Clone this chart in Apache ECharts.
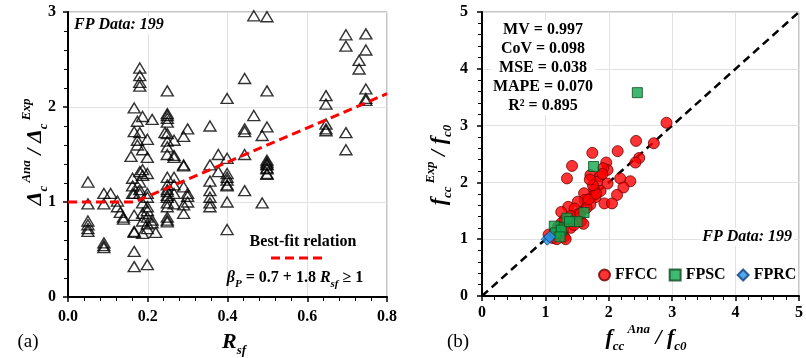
<!DOCTYPE html>
<html>
<head>
<meta charset="utf-8">
<script src="https://cdn.jsdelivr.net/npm/echarts@6/dist/echarts.min.js"></script>
<style>
  html, body { margin: 0; padding: 0; background: #fff; }
  #chart { width: 806px; height: 358px; }
</style>
</head>
<body>
<div id="chart"></div>
<script>
// (a) Rsf vs Δc Ana / Δc Exp
var rsf = [
  0.05, 0.05, 0.05, 0.05, 0.05, 0.05,
  0.09, 0.09, 0.09, 0.09, 0.09, 0.107, 0.124, 0.124, 0.131, 0.139, 0.139,
  0.166, 0.166, 0.166, 0.166, 0.166, 0.166, 0.166, 0.166,
  0.18, 0.18, 0.18, 0.18, 0.18, 0.18, 0.18, 0.18, 0.18,
  0.187, 0.187, 0.187, 0.187, 0.187, 0.187, 0.187, 0.187,
  0.174, 0.174, 0.174, 0.211, 0.211, 0.211,
  0.199, 0.199, 0.199, 0.199, 0.199, 0.199, 0.199, 0.199, 0.199, 0.199, 0.199,
  0.158, 0.162, 0.162, 0.162, 0.22,
  0.249, 0.249, 0.249, 0.249, 0.249, 0.249, 0.249, 0.249, 0.249, 0.249,
  0.249, 0.249, 0.249, 0.249, 0.249, 0.249, 0.249, 0.249, 0.249, 0.249,
  0.243, 0.266, 0.266, 0.266, 0.266, 0.266, 0.266, 0.266,
  0.29, 0.29, 0.29, 0.29, 0.29, 0.29, 0.30, 0.30, 0.30, 0.30,
  0.356, 0.356, 0.356, 0.356, 0.356, 0.356, 0.356, 0.377, 0.377,
  0.399, 0.399, 0.399, 0.399, 0.399, 0.399, 0.399, 0.399, 0.399,
  0.443, 0.443, 0.443, 0.443, 0.443, 0.466, 0.466, 0.487, 0.487,
  0.499, 0.499, 0.499, 0.499, 0.499, 0.499, 0.499, 0.499, 0.499, 0.499, 0.499,
  0.647, 0.647, 0.647, 0.647, 0.647, 0.697, 0.697, 0.697, 0.697,
  0.73, 0.73, 0.747, 0.747, 0.747, 0.747, 0.747
];
var deltaRatio = [
  1.21, 0.98, 0.80, 0.76, 0.72, 0.69,
  1.09, 0.98, 0.57, 0.54, 0.52, 1.09, 1.01, 0.95, 0.89, 0.84, 0.82,
  0.86, 0.69, 0.48, 0.32, 1.99, 1.74, 1.09, 0.68,
  2.41, 2.33, 2.26, 2.22, 1.73, 1.32, 1.21, 1.13, 1.09,
  1.90, 1.55, 1.34, 1.28, 0.99, 0.88, 0.80, 0.67,
  1.85, 1.65, 1.60, 1.87, 0.81, 0.78,
  1.66, 1.47, 1.30, 1.09, 1.05, 0.95, 0.91, 0.84, 0.77, 0.72, 0.34,
  1.48, 1.25, 1.17, 1.09, 0.68,
  2.17, 1.93, 1.91, 1.88, 1.84, 1.72, 1.64, 1.58, 1.50, 1.26,
  1.18, 1.13, 1.11, 1.07, 1.05, 0.99, 0.95, 0.84, 0.81, 0.79,
  1.73, 1.65, 1.49, 1.47, 1.26, 1.18, 1.09, 0.98,
  1.69, 1.39, 1.38, 1.16, 0.97, 0.88, 1.77, 1.09, 1.06, 1.00,
  1.80, 1.39, 1.22, 1.12, 1.05, 0.99, 0.95, 1.50, 1.32,
  2.09, 1.46, 1.30, 1.26, 1.23, 1.18, 1.17, 1.00, 0.71,
  2.30, 1.77, 1.74, 1.50, 1.12, 2.96, 1.91, 1.70, 0.99,
  2.95, 2.17, 1.79, 1.44, 1.42, 1.40, 1.39, 1.36, 1.35, 1.30, 1.29,
  2.12, 2.03, 1.82, 1.77, 1.75, 2.76, 2.64, 1.73, 1.55,
  2.49, 2.40, 2.77, 2.60, 2.19, 2.09, 2.07
];
// best-fit: βP = 0.7 + 1.8 Rsf ≥ 1
var fitX = [0, 0.167, 0.8];
var fitY = [1, 1, 2.14];

// (b) fcc Ana / fc0 vs fcc Exp / fc0
var ffccX = [2.91, 2.43, 2.71, 1.74, 2.14, 2.48, 2.42, 1.96, 1.42, 1.98, 1.91, 1.34, 1.71, 1.86, 1.82,
  2.18, 2.34, 1.98, 2.23, 2.13, 1.87, 1.77, 1.74, 1.79, 1.61, 1.62, 1.51, 1.71, 1.93, 2.05,
  1.36, 1.46, 1.25, 1.51, 1.40, 1.30, 1.56, 1.60, 1.25, 1.20, 1.28, 1.30, 1.15, 1.25,
  1.12, 1.18, 1.32, 1.05, 1.40, 1.45, 1.55, 1.65, 1.68, 1.80, 1.75, 1.70, 1.90];
var ffccY = [3.05, 2.73, 2.69, 2.52, 2.55, 2.43, 2.35, 2.35, 2.29, 2.22, 2.25, 2.07, 2.13, 2.11, 2.01,
  2.07, 2.02, 1.98, 1.91, 1.78, 1.85, 1.87, 1.75, 1.74, 1.81, 1.69, 1.66, 1.61, 1.63, 1.63,
  1.57, 1.54, 1.48, 1.44, 1.41, 1.34, 1.31, 1.27, 1.28, 1.22, 1.16, 1.04, 1.10, 1.07,
  1.02, 1.00, 1.00, 1.08, 1.20, 1.25, 1.45, 1.55, 1.70, 1.80, 1.95, 2.05, 2.15];
var fpscX = [2.45, 1.76, 1.61, 1.50, 1.34, 1.24, 1.14, 1.16, 1.25, 1.38, 1.23];
var fpscY = [3.58, 2.28, 1.47, 1.31, 1.37, 1.20, 1.23, 1.11, 1.16, 1.31, 1.04];
var fprcX = [1.03, 1.07];
var fprcY = [1.00, 1.04];
var diagX = [0, 5];
var diagY = [0, 5];

var statLines = ['MV = 0.997', 'CoV = 0.098', 'MSE = 0.038', 'MAPE = 0.070', 'R\u00b2 = 0.895'];
var seriesNames = ['FFCC', 'FPSC', 'FPRC'];

function zip(xs, ys) {
  return xs.map(function (x, i) { return [x, ys[i]]; });
}

var serif = 'Liberation Serif';
var tickFont = { fontFamily: serif, fontSize: 16, fontWeight: 'bold', color: '#000' };
var titleRich = {
  m: { fontFamily: serif, fontSize: 22, fontStyle: 'italic', fontWeight: 'bold', lineHeight: 30, color: '#000' },
  sub: { fontFamily: serif, fontSize: 13, fontStyle: 'italic', fontWeight: 'bold', verticalAlign: 'bottom', lineHeight: 14, color: '#000' },
  sup: { fontFamily: serif, fontSize: 13, fontStyle: 'italic', fontWeight: 'bold', verticalAlign: 'top', lineHeight: 14, color: '#000' },
  t: { fontFamily: serif, fontSize: 16, fontWeight: 'bold', lineHeight: 24, color: '#000' },
  i: { fontFamily: serif, fontSize: 16, fontStyle: 'italic', fontWeight: 'bold', lineHeight: 24, color: '#000' },
  is: { fontFamily: serif, fontSize: 11, fontStyle: 'italic', fontWeight: 'bold', verticalAlign: 'bottom', lineHeight: 11, color: '#000' }
};

function makeAxis(grid, min, max, step, digits, margin) {
  return {
    type: 'value', gridIndex: grid, min: min, max: max, interval: step,
    axisLine: { onZero: false, lineStyle: { color: '#000', width: 2 } },
    axisTick: { length: 5, lineStyle: { color: '#000', width: 1.5 } },
    minorTick: { show: true, splitNumber: 5, length: 4, lineStyle: { color: '#000', width: 1 } },
    splitLine: { show: true, lineStyle: { color: '#e2e2e2', width: 1 } },
    axisLabel: Object.assign({ margin: margin, formatter: function (v) { return v.toFixed(digits); } }, tickFont)
  };
}

function textEl(x, y, txt, extra) {
  return {
    type: 'text', x: x, y: y, z: 100, silent: true,
    style: Object.assign({
      text: txt, fontFamily: serif, fontSize: 16, fontWeight: 'bold', fill: '#000',
      align: 'center', verticalAlign: 'middle'
    }, extra || {})
  };
}

var option = {
  animation: false,
  backgroundColor: '#fff',
  grid: [
    { left: 68, top: 12, width: 319, height: 285, show: true, borderColor: '#8c8c8c', borderWidth: 1 },
    { left: 482, top: 12, width: 325, height: 284, show: true, borderColor: '#8c8c8c', borderWidth: 1 }
  ],
  xAxis: [makeAxis(0, 0, 0.8, 0.2, 1, 12), makeAxis(1, 0, 5, 1, 0, 9)],
  yAxis: [makeAxis(0, 0, 3, 1, 0, 12), makeAxis(1, 0, 5, 1, 0, 14)],
  legend: {
    data: [
      { name: seriesNames[0], icon: 'circle' },
      { name: seriesNames[1], icon: 'rect' },
      { name: seriesNames[2], icon: 'diamond' }
    ],
    left: 598, top: 267, padding: 0, itemWidth: 11, itemHeight: 11, itemGap: 11,
    textStyle: { fontFamily: serif, fontSize: 16, fontWeight: 'bold', color: '#000' }
  },
  series: [
    {
      type: 'scatter', xAxisIndex: 0, yAxisIndex: 0,
      symbol: 'triangle', symbolSize: [12, 10],
      itemStyle: { color: 'rgba(255,255,255,0)', borderColor: '#000', borderWidth: 1.4 },
      data: zip(rsf, deltaRatio)
    },
    {
      type: 'line', xAxisIndex: 0, yAxisIndex: 0, symbol: 'none', z: 4,
      lineStyle: { color: '#ff0000', width: 3, type: [9, 5] },
      data: zip(fitX, fitY)
    },
    {
      type: 'line', xAxisIndex: 1, yAxisIndex: 1, symbol: 'none', z: 1,
      lineStyle: { color: '#000', width: 2.5, type: [8, 5] },
      data: zip(diagX, diagY)
    },
    {
      name: seriesNames[0], type: 'scatter', xAxisIndex: 1, yAxisIndex: 1,
      symbol: 'circle', symbolSize: 11,
      itemStyle: { color: '#ff0000', borderColor: '#6b0000', borderWidth: 1 },
      data: zip(ffccX, ffccY)
    },
    {
      name: seriesNames[1], type: 'scatter', xAxisIndex: 1, yAxisIndex: 1,
      symbol: 'rect', symbolSize: 10,
      itemStyle: { color: '#11a84e', borderColor: '#0b4a22', borderWidth: 1 },
      data: zip(fpscX, fpscY)
    },
    {
      name: seriesNames[2], type: 'scatter', xAxisIndex: 1, yAxisIndex: 1,
      symbol: 'diamond', symbolSize: 12,
      itemStyle: { color: '#2592ea', borderColor: '#0f3f7a', borderWidth: 1 },
      data: zip(fprcX, fprcY)
    }
  ],
  graphic: [
    textEl(72, 25, 'FP Data: 199', { align: 'left', fontStyle: 'italic', backgroundColor: '#fff', padding: [1, 2] }),
    textEl(794, 237, 'FP Data: 199', { align: 'right', fontStyle: 'italic', backgroundColor: '#fff', padding: [1, 2] }),
    textEl(543, 20, statLines.join('\n'), { verticalAlign: 'top', lineHeight: 19, backgroundColor: '#fff', padding: [0, 2] }),
    textEl(303, 242, 'Best-fit relation'),
    {
      type: 'line', silent: true, z: 100,
      shape: { x1: 271, y1: 258, x2: 327, y2: 258 },
      style: { stroke: '#ff0000', lineWidth: 3, lineDash: [9, 5] }
    },
    textEl(295, 278, '{i|β}{is|P}{t| = 0.7 + 1.8 }{i|R}{is|sf}{t| ≥ 1}', { rich: titleRich }),
    textEl(28, 342, '(a)', { fontWeight: 'normal', fontSize: 19 }),
    textEl(458, 342, '(b)', { fontWeight: 'normal', fontSize: 19 }),
    textEl(234, 342, '{m|R}{sub|sf}', { rich: titleRich }),
    textEl(646, 338, '{m|f}{sub|cc}{sup| Ana}{m| / f}{sub|c0}', { rich: titleRich }),
    Object.assign(textEl(35, 152, '{m|Δ}{sub|c}{sup| Ana}{m| / Δ}{sub|c}{sup| Exp}', { rich: titleRich }), { rotation: Math.PI / 2 }),
    Object.assign(textEl(439, 165, '{m|f}{sub|cc}{sup| Exp}{m| / f}{sub|c0}', { rich: titleRich }), { rotation: Math.PI / 2 })
  ]
};

var chart = echarts.init(document.getElementById('chart'));
chart.setOption(option);
</script>
</body>
</html>
